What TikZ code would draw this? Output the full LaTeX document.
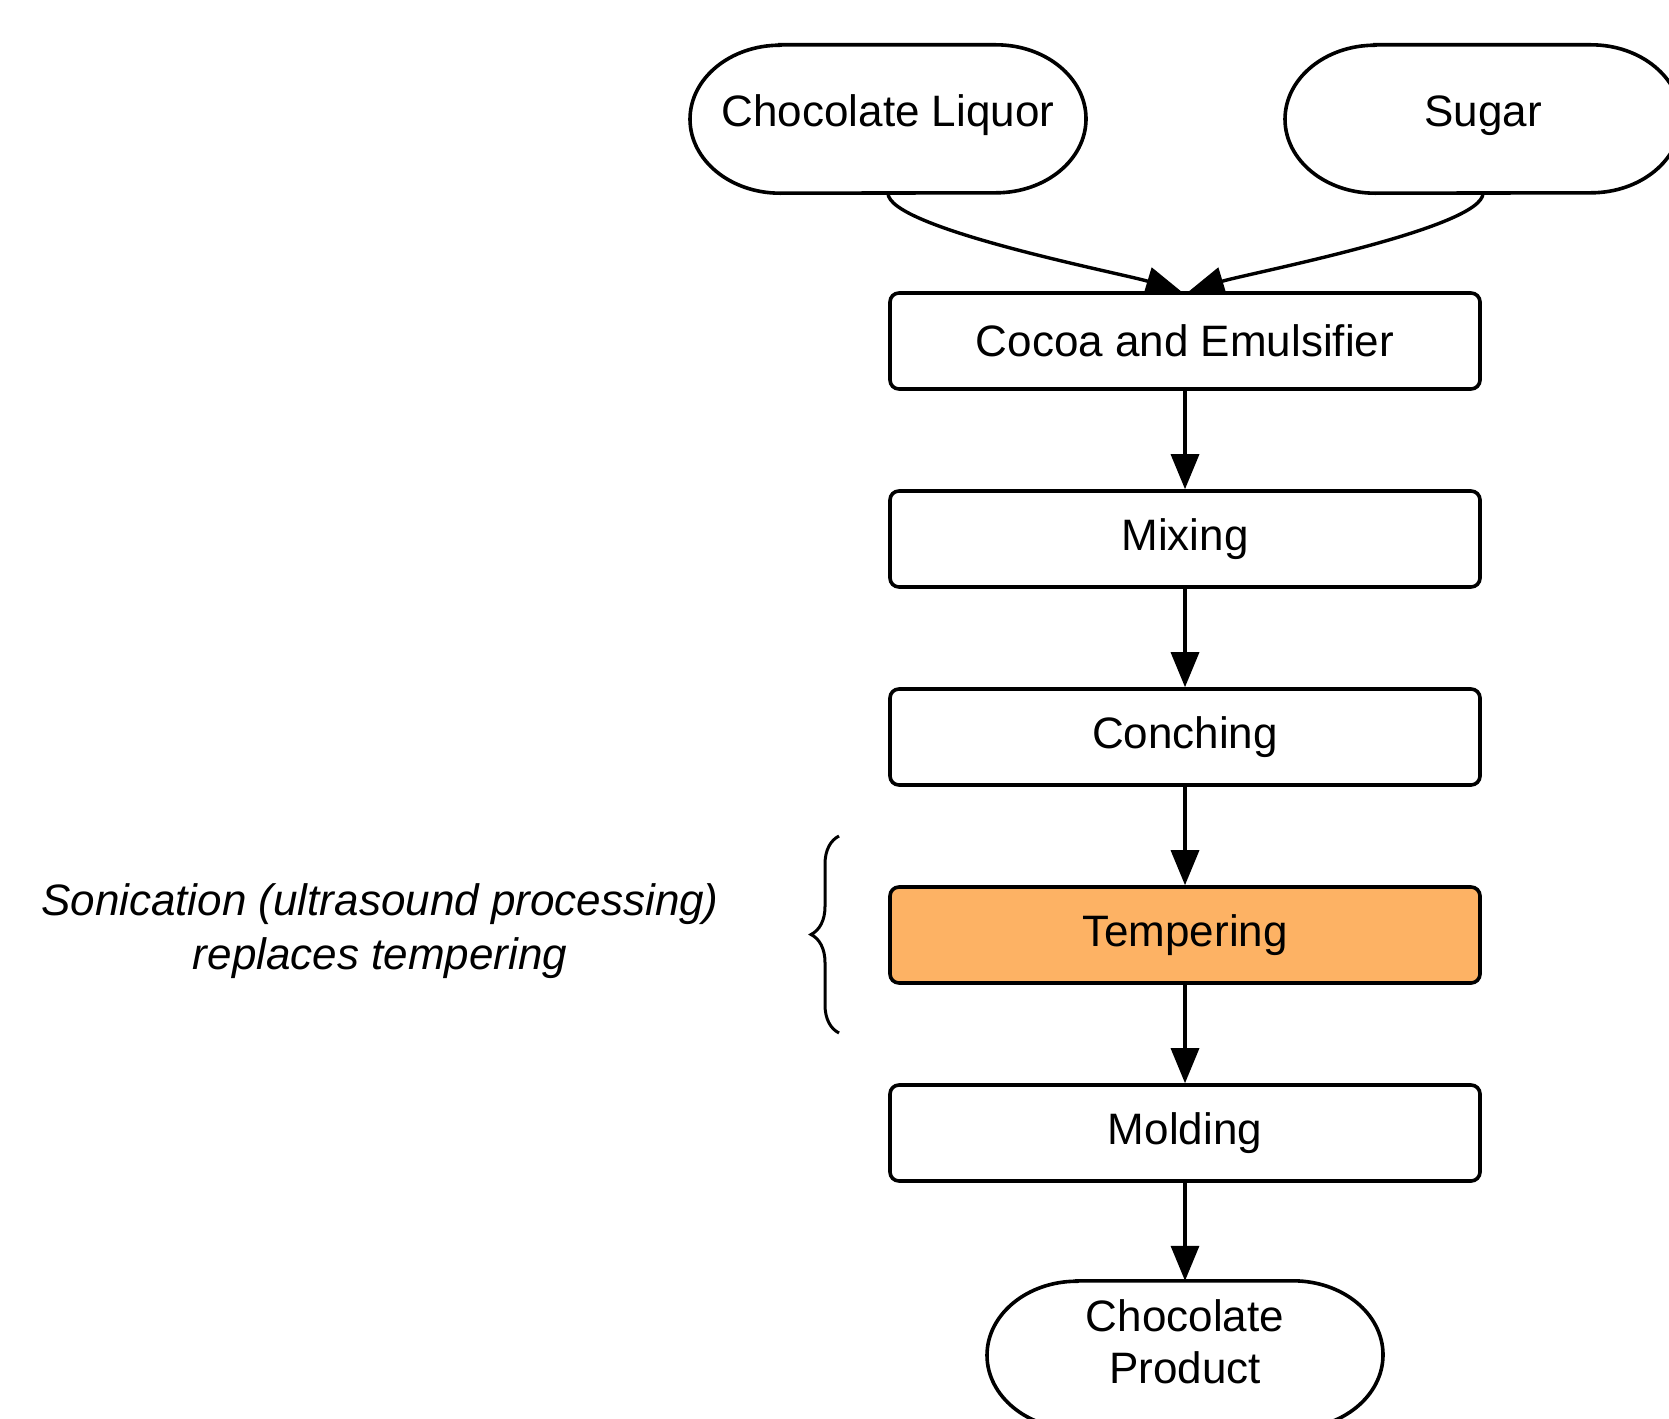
\documentclass[tikz,border=0pt]{standalone}
\usepackage{fontspec}
\setmainfont{Liberation Sans}
\usetikzlibrary{arrows.meta,decorations.pathreplacing}
\definecolor{temper}{RGB}{253,178,100}
\tikzset{
  box/.style={draw, line width=3.6pt, rounded corners=9pt, minimum width=590pt, minimum height=96pt, inner sep=0pt, font=\fontsize{44}{53}\selectfont},
  term/.style={draw=none, minimum width=396pt, minimum height=148pt, inner sep=0pt, align=center, font=\fontsize{44}{53}\selectfont},
  flow/.style={line width=3.4pt, -{Triangle[length=35pt,width=28pt]}},
  note/.style={align=center, font=\fontsize{44}{54}\selectfont\itshape},
}
\newcommand{\stadium}[1]{%
  \draw[line width=3.6pt] ([xshift=-108pt]#1.north) -- ([xshift=108pt]#1.north)
    arc[start angle=90,end angle=-90,x radius=90pt,y radius=74pt]
    -- ([xshift=-108pt]#1.south)
    arc[start angle=270,end angle=90,x radius=90pt,y radius=74pt] -- cycle;}
\begin{document}
\begin{tikzpicture}[x=1pt,y=-1pt]
\useasboundingbox (0,0) rectangle (1669,1418);
\node[term] (liq) at (888,119) {\smash{\raisebox{-8pt}{Chocolate Liquor}}};
\node[term] (sug) at (1483,119) {\smash{\raisebox{-8pt}{Sugar}}};
\node[term] (prod) at (1185,1355) {\smash{\raisebox{24pt}{\begin{tabular}[t]{@{}c@{}}Chocolate\\[-1pt]Product\end{tabular}}}};
\stadium{liq}
\stadium{sug}
\stadium{prod}
\node[box] (coc) at (1185,341) {Cocoa and Emulsifier};
\node[box] (mix) at (1185,539) {Mixing};
\node[box] (con) at (1185,737) {Conching};
\node[box, fill=temper] (tem) at (1185,935) {Tempering};
\node[box] (mol) at (1185,1133) {Molding};
\node[note] (txt) at (380,931) {Sonication (ultrasound processing)\\replaces tempering};
\coordinate (bb) at (839,1033);
\coordinate (bt) at (839,836);
\draw[line width=3pt, decorate, decoration={brace, amplitude=28pt}] (bb) -- (bt);
\draw[flow] (liq.south) .. controls +(0,35) and +(-60,-18) .. ([xshift=-4pt]coc.north);
\draw[flow] (sug.south) .. controls +(0,35) and +(60,-18) .. ([xshift=4pt]coc.north);
\draw[flow] (coc) -- (mix);
\draw[flow] (mix) -- (con);
\draw[flow] (con) -- (tem);
\draw[flow] (tem) -- (mol);
\draw[flow] (mol) -- (prod.north);
\end{tikzpicture}
\end{document}
